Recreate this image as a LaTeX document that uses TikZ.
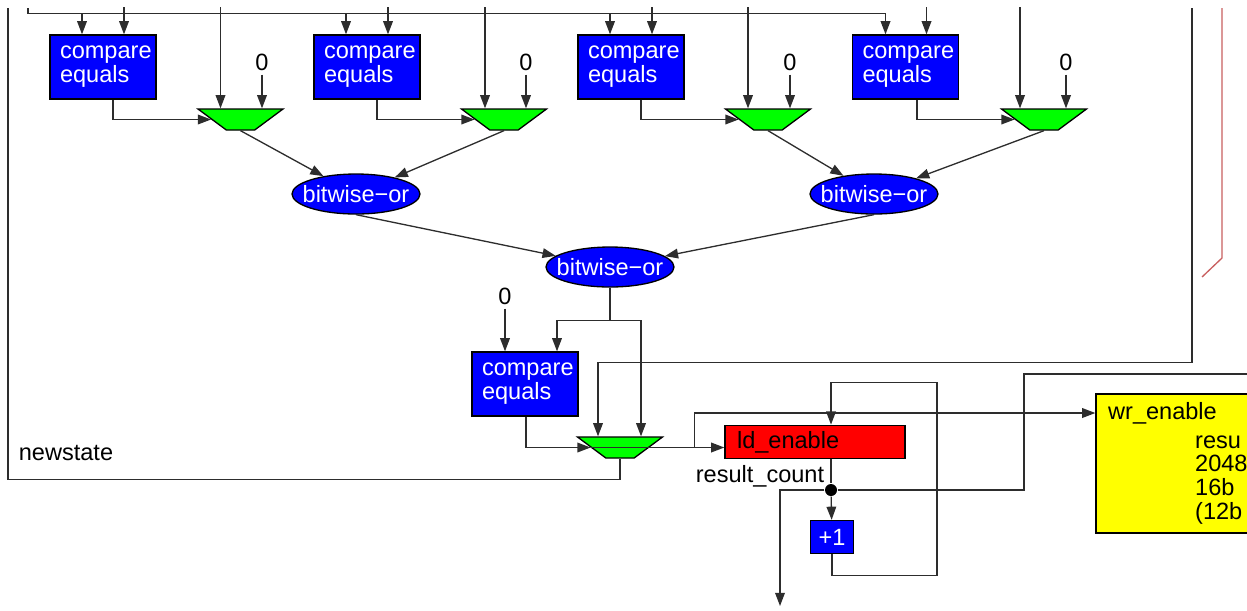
\documentclass[tikz,border=0pt]{standalone}
\usepackage{fontspec}
\setmainfont{Liberation Sans}
\usetikzlibrary{arrows.meta,calc,shapes.geometric}
\definecolor{wiregray}{RGB}{45,45,45}
\definecolor{opblue}{RGB}{0,0,255}
\definecolor{muxgreen}{RGB}{0,255,0}
\definecolor{regred}{RGB}{255,0,0}
\definecolor{memyellow}{RGB}{255,255,0}
\definecolor{netred}{RGB}{200,95,95}

\tikzset{
  cmpbox/.style={draw,fill=opblue,text=white,minimum width=2.12cm,minimum height=1.28cm,
    text width=1.72cm,inner xsep=0.2cm,align=left},
  mux/.style={draw,fill=muxgreen,trapezium,shape border rotate=180,trapezium angle=45,
    trapezium stretches=true,minimum width=1.7cm,minimum height=0.42cm,inner sep=1pt},
  orop/.style={draw,fill=opblue,ellipse,minimum width=2.56cm,minimum height=0.8cm,inner sep=0pt,
    label={[text=white,inner sep=0pt]center:bitwise−or}},
  regbox/.style={draw,fill=regred,minimum width=3.6cm,minimum height=0.64cm,
    text width=3.12cm,inner xsep=0.24cm,align=left},
  incbox/.style={draw,fill=opblue,text=white,minimum width=0.86cm,minimum height=0.66cm,inner sep=0pt},
  membox/.style={draw,fill=memyellow,minimum width=6.08cm,minimum height=2.78cm},
  lbl/.style={inner sep=2pt},
}

\begin{document}
\begin{tikzpicture}[x=0.02cm,y=-0.02cm,>={Triangle[length=7.5pt,width=5.5pt]},
  line width=0.75pt,font=\fontsize{13.4}{13.6}\selectfont]
\useasboundingbox (0,0) rectangle (1247,610);
\clip (0,0) rectangle (1247,610);
% comparators and muxes
\node[cmpbox] (c1) at (103,67) {compare\\equals};
\node[cmpbox] (c2) at (367,67) {compare\\equals};
\node[cmpbox] (c3) at (631,67) {compare\\equals};
\node[cmpbox] (c4) at (905.5,67) {compare\\equals};
\node[mux] (m1) at (240.5,119.5) {};
\node[mux] (m2) at (504,119.5) {};
\node[mux] (m3) at (768,119.5) {};
\node[mux] (m4) at (1044,119.5) {};
\node[lbl] (z1) at (262,62) {0};
\node[lbl] (z2) at (526,62) {0};
\node[lbl] (z3) at (790,62) {0};
\node[lbl] (z4) at (1066,62) {0};
% or tree
\node[orop] (o1) at (356,194) {};
\node[orop] (o2) at (874,194) {};
\node[orop] (o3) at (610,267) {};
% last stage
\node[cmpbox] (c5) at (525,384) {compare\\equals};
\node[lbl] (z5) at (505,296) {0};
\node[mux] (m5) at (620,447.5) {};
\node[regbox] (ld) at (815,442) {ld\_enable};
\node[lbl] (rc) at (760,476) {result\_count};
\node[circle,fill=black,inner sep=0pt,minimum size=0.24cm] (dot) at (831,490) {};
\node[incbox] (p1) at (832,537) {+1};
\node[membox] (mem) at (1248,463.5) {};
\node[lbl,anchor=west] (wr) at (1104,413) {wr\_enable};
\node[lbl,anchor=west,align=left] (memtxt) at (1191,480) {resu\\2048\\16b\\(12b};
\node[lbl] (ns) at (66,453) {newstate};
\coordinate (bus) at (28,8);
\coordinate (lefttop) at (8,8);
\coordinate (fbtop) at (1192,8);
\coordinate (wrdata) at (1250,374);
\coordinate (outres) at (780,606);
\coordinate (wrtap) at ($(ld.west |- m5.west)+(-30,0)$);

\begin{scope}[draw=wiregray]
% bus and inputs from above
\draw[->] (bus) |- ($(c4.north)+(-20,-21)$) -- ($(c4.north)+(-20,0)$);
\foreach \c in {c1,c2,c3}
  \draw[->] ($(\c.north)+(-21,-21)$) -- ($(\c.north)+(-21,0)$);
\foreach \c in {c1,c2,c3,c4}
  \draw[->] ($(\c.north)+(21,-27)$) -- ($(\c.north)+(21,0)$);
\foreach \m/\d in {m1/-20,m2/-19,m3/-20,m4/-24}
  \draw[->] ($(\m.north)+(\d,-101)$) -- ($(\m.north)+(\d,0)$);
\foreach \m/\z in {m1/z1,m2/z2,m3/z3,m4/z4}
  \draw[->] (\z.south) -- (\z.south |- \m.north);
\foreach \c/\m/\d in {c1/m1/10,c2/m2/10,c3/m3/10,c4/m4/11.5}
  \draw[->] ($(\c.south)+(\d,0)$) |- (\m.west);
% or tree
\draw[->] (m1.south) -- (o1);
\draw[->] (m2.south) -- (o1);
\draw[->] (m3.south) -- (o2);
\draw[->] (m4.south) -- (o2);
\draw[->] (o1.south) -- (o3);
\draw[->] (o2.south) -- (o3);
% last stage
\draw[->] (o3.south) -- ++(0,33) -| ($(c5.north)+(32,0)$);
\draw[->] (o3.south) -- ++(0,33) -| ($(m5.north)+(21,0)$);
\draw[->] (z5.south) -- (z5.south |- c5.north);
\draw[->] ($(c5.south)+(1,0)$) |- (m5.west);
\draw[->] (fbtop) |- ($(m5.north)+(-22,-74)$) -- ($(m5.north)+(-22,0)$);
\draw (m5.south) -- ++(0,21) -| (lefttop);
\draw[->] (m5.west) -- (ld.west |- m5.west);
\draw[->] (wrtap) |- (mem.west |- wr.west);
% counter loop
\draw (ld.south -| dot) -- (dot);
\draw[->] (dot) -- (p1);
\draw[->] (p1.south) -- ++(0,21) -- ++(105,0) |- ($(ld.north)+(16,-42)$) -- ($(ld.north)+(16,0)$);
\draw[->] (dot) -| (outres);
\draw (dot) -| ($(wrdata)+(-226,0)$) -- (wrdata);
\end{scope}
\draw[netred] (1222,8) -- (1222,258) -- (1202,277);
\end{tikzpicture}
\end{document}
